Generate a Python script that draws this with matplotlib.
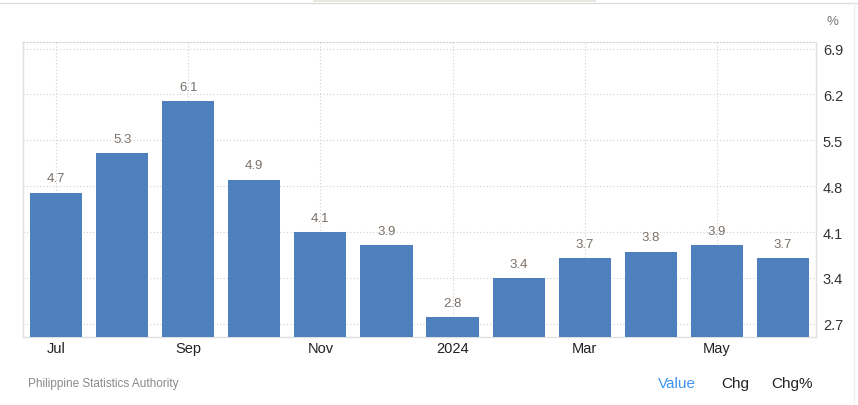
import numpy as np
import matplotlib.pyplot as plt

plt.rcParams['font.family'] = ['Liberation Sans', 'DejaVu Sans']

# monthly values, Jul 2023 - Jun 2024
months = ['Jul', 'Aug', 'Sep', 'Oct', 'Nov', 'Dec', '2024', 'Feb', 'Mar', 'Apr', 'May', 'Jun']
values = [4.7, 5.3, 6.1, 4.9, 4.1, 3.9, 2.8, 3.4, 3.7, 3.8, 3.9, 3.7]
yticks = [2.7, 3.4, 4.1, 4.8, 5.5, 6.2, 6.9]
shown_months = ['Jul', 'Sep', 'Nov', '2024', 'Mar', 'May']

W, H = 858, 406
fig = plt.figure(figsize=(W / 100, H / 100), dpi=100)
ax = fig.add_axes([23 / W, (H - 338) / H, (816 - 23) / W, (338 - 43) / H])

x = np.arange(len(months))
ax.bar(x, values, width=0.79, color='#4e80bd', zorder=3)
for xi, v in zip(x, values):
    ax.annotate(f'{v:.1f}', (xi, v), xytext=(0, 6), textcoords='offset points',
                ha='center', va='bottom', fontsize=9.5, color='#7a7068')

ax.set_xlim(-0.5, len(months) - 0.5)
ax.set_ylim(2.5, 7.0)

tick_pos = [months.index(m) for m in shown_months]
ax.set_xticks(tick_pos)
ax.set_xticklabels(shown_months, fontsize=10.5, color='#222222')
ax.set_yticks(yticks)
ax.set_yticklabels([f'{t:.1f}' for t in yticks], fontsize=10.5, color='#333333')
ax.yaxis.tick_right()
ax.tick_params(axis='both', length=0)
ax.tick_params(axis='y', pad=5)
ax.tick_params(axis='x', pad=3)

ax.grid(True, linestyle=(0, (1, 2)), color='#d0d0d0', linewidth=0.8, zorder=0)
for side in ['left', 'right', 'bottom']:
    ax.spines[side].set_color('#e0e0e0')
    ax.spines[side].set_linewidth(1)
ax.spines['top'].set_linestyle((0, (1, 2)))
ax.spines['top'].set_color('#d0d0d0')

# frame lines of the page
fig.add_artist(plt.Line2D([0, 1], [1 - 4 / H, 1 - 4 / H], color='#dcdcdc', linewidth=1))
fig.add_artist(plt.Line2D([314 / W, 594 / W], [1 - 1 / H, 1 - 1 / H], color='#e8e8e0', linewidth=2))
fig.add_artist(plt.Line2D([854 / W, 854 / W], [0, 1 - 4 / H], color='#eeeeee', linewidth=1))

fig.text(832 / W, 1 - 22 / H, '%', fontsize=9.5, color='#777777', ha='center', va='center')
fig.text(28 / W, 1 - 384 / H, 'Philippine Statistics Authority', fontsize=8.5,
         color='#8a8a8a', ha='left', va='center')
fig.text(677 / W, 1 - 384 / H, 'Value', fontsize=11, color='#3d95f0', ha='center', va='center')
fig.text(735 / W, 1 - 384 / H, 'Chg', fontsize=11, color='#222222', ha='center', va='center')
fig.text(792 / W, 1 - 384 / H, 'Chg%', fontsize=11, color='#222222', ha='center', va='center')

fig.savefig('out.png', dpi=100)
